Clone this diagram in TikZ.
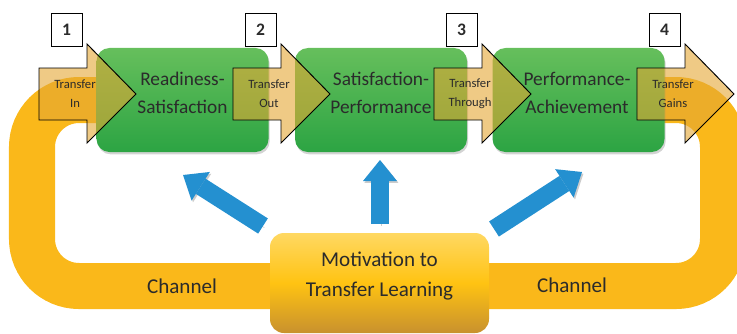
\documentclass[tikz,border=0pt]{standalone}
\usepackage{fontspec}
\setmainfont{Carlito}
\usetikzlibrary{arrows.meta,shadows}
\definecolor{txt}{HTML}{2B2B2B}
\definecolor{bandcol}{HTML}{FAB81A}
\definecolor{grtop}{HTML}{66BF5C}
\definecolor{grbot}{HTML}{2CA443}
\definecolor{tanarr}{HTML}{E4A734}
\definecolor{motop}{HTML}{FFD862}
\definecolor{momid}{HTML}{FFC312}
\definecolor{mobot}{HTML}{C8912E}
\definecolor{blu}{HTML}{2490D0}
\begin{document}
\begin{tikzpicture}[x=0.03cm, y=-0.03cm,
    stage/.style={rounded corners=0.39cm, minimum width=5.16cm, minimum height=3.12cm,
        top color=grtop, bottom color=grbot,
        drop shadow={opacity=0.35, shadow xshift=1pt, shadow yshift=-2pt}},
    stagetext/.style={text=txt, align=center, font=\fontsize{16.5}{24}\selectfont},
    flow/.style={draw=black, line width=0.8pt, fill=tanarr, fill opacity=0.6},
    flowtext/.style={text=txt, align=center, font=\fontsize{10.8}{16}\selectfont},
    numbox/.style={draw=black, line width=0.8pt, fill=white, minimum width=0.93cm,
        minimum height=0.99cm, inner sep=0pt, text=txt, font=\fontsize{15}{18}\selectfont\bfseries},
    motive/.style={rounded corners=0.42cm, minimum width=6.57cm, minimum height=3cm,
        top color=motop, bottom color=mobot, middle color=momid},
    bigtext/.style={text=txt, align=center, font=\fontsize{18}{26.4}\selectfont},
    push/.style={draw=blu, line width=0.54cm,
        -{Triangle[length=0.63cm, width=1.02cm, line width=0pt]},
        preaction={draw=black, opacity=0.2, transform canvas={shift={(1.2pt,-1.5pt)}}}}]
    \useasboundingbox (0,0) rectangle (737,333);
    % channel round the stages
    \draw[bandcol, line width=1.38cm, rounded corners=1.41cm]
        (100,100) -- (32,100) -- (32,286) -- (723,286) -- (723,100) -- (640,100);
    \node[bigtext] (ch1) at (182,286) {Channel};
    \node[bigtext] (ch2) at (572,285) {Channel};
    % stages
    \node[stage] (rs) at (182.5,100) {};
    \node[stage] (sp) at (381,100) {};
    \node[stage] (pa) at (578.5,100) {};
    \node[stagetext] (rsl) at (182.5,93) {Readiness-\\Satisfaction};
    \node[stagetext] (spl) at (381,93) {Satisfaction-\\Performance};
    \node[stagetext] (pal) at (577,93) {Performance-\\Achievement};
    % transfer arrows and numbers
    \foreach \x/\n/\w in {39/1/In, 233/2/Out, 434/3/Through, 637/4/Gains} {
        \draw[flow] (\x,68) -- ++(48,0) -- ++(0,-24) -- (\x+97,94) -- (\x+48,143)
            -- ++(0,-23) -- (\x,120) -- cycle;
        \node[flowtext] (t\n) at (\x+36,94) {Transfer\\\w};
        \node[numbox] (n\n) at (\x+27.5,30) {\n};
    }
    % motivation
    \coordinate (a1) at (263,226);
    \coordinate (b1) at (183,175);
    \coordinate (a2) at (380,224);
    \coordinate (b2) at (380,160);
    \coordinate (a3) at (494,229);
    \coordinate (b3) at (582,172);
    \draw[push] (a1) -- (b1);
    \draw[push] (a2) -- (b2);
    \draw[push] (a3) -- (b3);
    \node[motive] (mot) at (379.5,283) {};
    \node[bigtext] (motl) at (379.5,276) {Motivation to\\Transfer Learning};
\end{tikzpicture}
\end{document}
